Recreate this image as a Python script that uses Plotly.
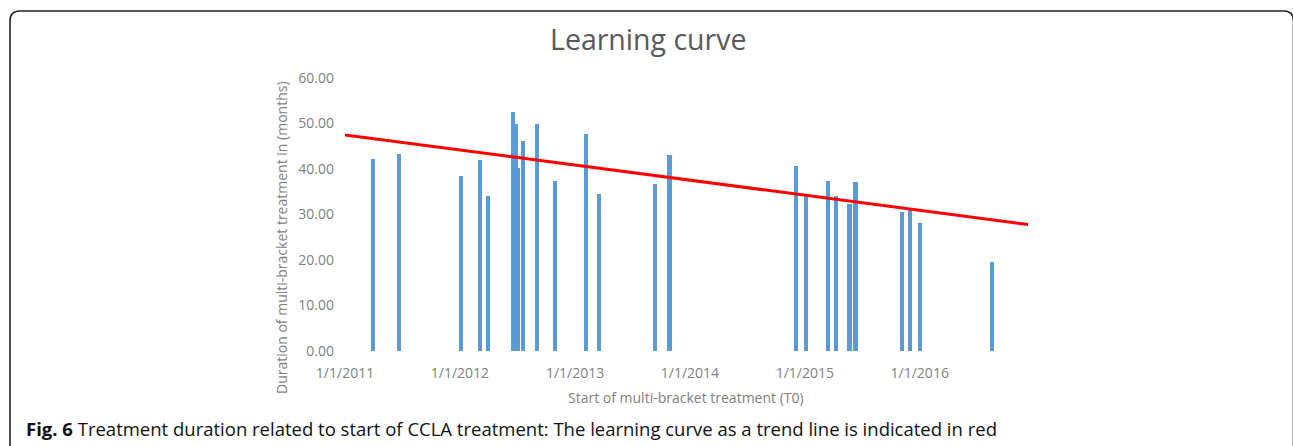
import plotly.graph_objects as go

# ---- data ----
start_dates = [
    "2011-03-31", "2011-06-21", "2012-01-05", "2012-03-06", "2012-03-29",
    "2012-06-17", "2012-06-27", "2012-07-04", "2012-07-19", "2012-09-01",
    "2012-10-29", "2013-02-04", "2013-03-19", "2013-09-11", "2013-10-28",
    "2014-12-05", "2015-01-04", "2015-03-16", "2015-04-11", "2015-05-23",
    "2015-06-11", "2015-11-07", "2015-12-02", "2016-01-02", "2016-08-17",
]
duration_months = [
    42.2, 43.4, 38.5, 42.0, 34.1,
    52.5, 49.8, 40.3, 46.1, 49.9,
    37.4, 47.8, 34.4, 36.6, 43.1,
    40.6, 34.1, 37.4, 34.1, 32.3,
    37.2, 30.5, 31.5, 28.2, 19.6,
]
trend_dates = ["2011-01-01", "2016-12-10"]
trend_values = [47.5, 27.8]

tick_dates = ["2011-01-01", "2012-01-01", "2013-01-01", "2014-01-01", "2015-01-01", "2016-01-01"]
tick_labels = ["1/1/2011", "1/1/2012", "1/1/2013", "1/1/2014", "1/1/2015", "1/1/2016"]
y_ticks = [0, 10, 20, 30, 40, 50, 60]

title_text = "Learning curve"
x_title = "Start of multi-bracket treatment (T0)"
y_title = "Duration of multi-bracket treatment in (months)"
caption_bold = "Fig. 6"
caption_text = " Treatment duration related to start of CCLA treatment: The learning curve as a trend line is indicated in red"

# ---- layout in pixels ----
W, H = 1293, 446
def px(x):
    return x / W
def py(y):
    return 1 - y / H

FONT = "Open Sans"
GRAY = "#7f7f7f"

fig = go.Figure()
fig.add_trace(go.Bar(
    x=start_dates, y=duration_months,
    width=13 * 86400000,
    marker=dict(color="#5B9BD5", line=dict(width=0)),
    showlegend=False,
))
fig.add_trace(go.Scatter(
    x=trend_dates, y=trend_values, mode="lines",
    line=dict(color="#FF0000", width=3),
    showlegend=False,
))

fig.update_layout(
    width=W, height=H, autosize=False,
    margin=dict(l=0, r=0, t=0, b=0),
    paper_bgcolor="white", plot_bgcolor="white",
    font=dict(family=FONT, color=GRAY),
    xaxis=dict(
        domain=[px(345), px(1028)],
        type="date",
        range=[trend_dates[0], trend_dates[1]],
        tickvals=tick_dates, ticktext=tick_labels,
        showgrid=False, zeroline=False, showline=False, ticks="",
        tickfont=dict(family=FONT, size=14, color=GRAY),
        ticklabelstandoff=12,
        automargin=False,
    ),
    yaxis=dict(
        domain=[py(351), py(78)],
        range=[0, 60],
        tickvals=y_ticks, tickformat=".2f",
        showgrid=False, zeroline=False, showline=False, ticks="",
        tickfont=dict(family=FONT, size=14, color=GRAY),
        ticklabelstandoff=10,
        automargin=False,
    ),
    bargap=0,
)

annotations = [
    dict(text=title_text, x=px(648), y=py(39), xref="paper", yref="paper",
         xanchor="center", yanchor="middle", showarrow=False,
         font=dict(family=FONT, size=28.5, color="#595959")),
    dict(text=x_title, x=px(686), y=py(397), xref="paper", yref="paper",
         xanchor="center", yanchor="middle", showarrow=False,
         font=dict(family=FONT, size=14, color=GRAY)),
    dict(text=y_title, x=px(281), y=py(238), xref="paper", yref="paper",
         xanchor="center", yanchor="middle", showarrow=False, textangle=-90,
         font=dict(family=FONT, size=14, color=GRAY)),
    dict(text="<b>" + caption_bold + "</b>" + caption_text, x=px(24), y=py(428),
         xref="paper", yref="paper", xanchor="left", yanchor="middle", showarrow=False,
         font=dict(family=FONT, size=18.5, color="#111111")),
]
fig.update_layout(annotations=annotations)

# rounded frame (left and top edges visible)
r = 10
path = (
    f"M {px(10)} {py(460)} L {px(10)} {py(11 + r)} "
    f"Q {px(10)} {py(11)} {px(10 + r)} {py(11)} "
    f"L {px(1293.5 - r)} {py(11)} "
    f"Q {px(1293.5)} {py(11)} {px(1293.5)} {py(11 + r)} "
    f"L {px(1293.5)} {py(460)}"
)
fig.add_shape(type="path", path=path, xref="paper", yref="paper",
              line=dict(color="#222222", width=1.6))

fig.write_html("out.html", config={"displayModeBar": False},
               post_script="document.body.style.margin='0';")
